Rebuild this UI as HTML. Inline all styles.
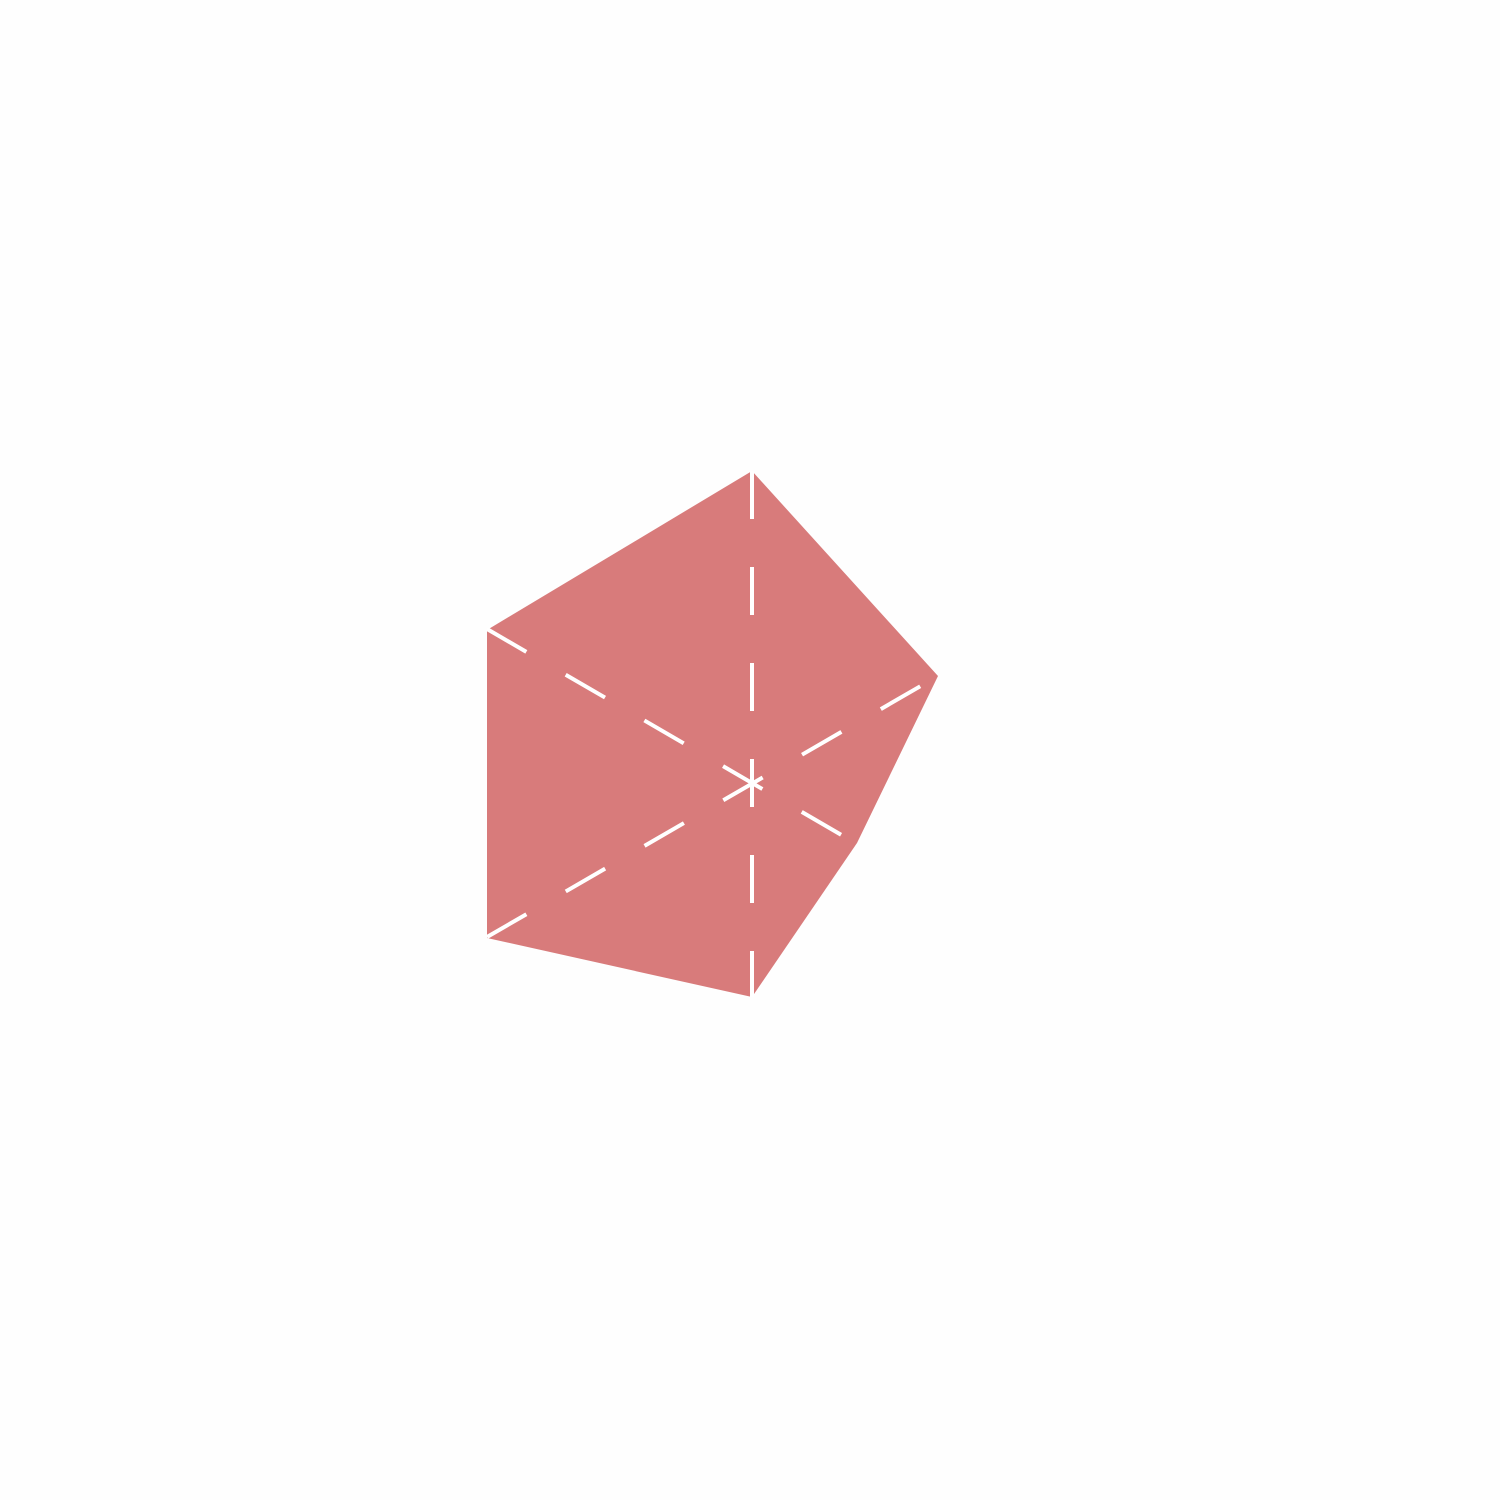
<!DOCTYPE html>
<html><head><style>html,body{margin:0;padding:0;background:#fff;}svg{display:block}</style></head>
<body>
<svg width="1500" height="1500" viewBox="0 0 1500 1500" xmlns="http://www.w3.org/2000/svg">
<rect width="1500" height="1500" fill="#fefefe"/>
<polygon points="752,471 938,676 857,843 752,997 487,938 487,630" fill="#d87b7b"/>
<g stroke="#ffffff" stroke-width="4" fill="none">
<line x1="752" y1="471" x2="752" y2="997" stroke-dasharray="48,48"/>
<line x1="487" y1="629" x2="857" y2="844" stroke-dasharray="45.5,45.5"/>
<line x1="487" y1="937" x2="938" y2="676" stroke-dasharray="45.5,45.5"/>
</g>
</svg>
</body></html>
